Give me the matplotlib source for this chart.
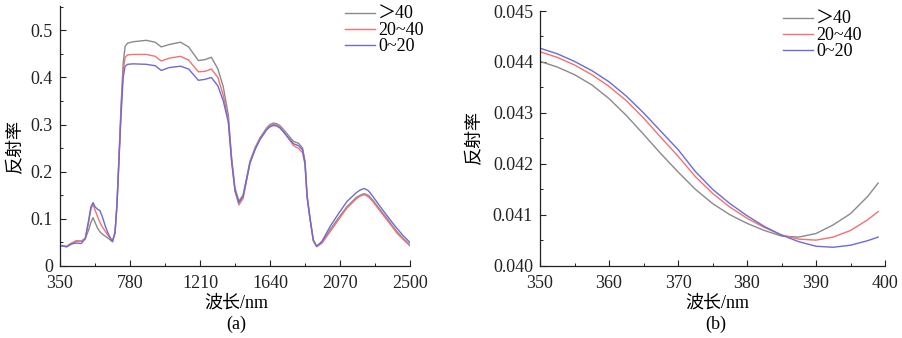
import matplotlib
matplotlib.use("Agg")
import matplotlib.pyplot as plt
from matplotlib.ticker import MultipleLocator, FixedLocator, FormatStrFormatter

plt.rcParams['font.family'] = ['Liberation Serif', 'Noto Sans CJK SC', 'DejaVu Sans']
plt.rcParams['axes.unicode_minus'] = False

# ---------------- data ----------------
labels = ["＞40", "20~40", "0~20"]
colors = ["#8a8a8a", "#f07272", "#6b6bd6"]

wl_a = [350, 390, 420, 450, 480, 505, 525, 540, 553, 565, 580, 595, 610, 630, 650, 672,
        688, 700, 712, 725, 738, 750, 765, 800, 880, 935, 972, 1020, 1090, 1140, 1200,
        1240, 1280, 1320, 1353, 1384, 1404, 1425, 1449, 1475, 1517, 1550, 1579, 1620,
        1640, 1660, 1680, 1700, 1724, 1760, 1785, 1816, 1840, 1855, 1868, 1886, 1906,
        1927, 1960, 2009, 2060, 2112, 2170, 2195, 2220, 2245, 2270, 2318, 2370, 2420,
        2460, 2500]

gray_a = [0.043, 0.040, 0.046, 0.052, 0.052, 0.057, 0.075, 0.092, 0.102, 0.092, 0.080, 0.072,
          0.067, 0.062, 0.057, 0.051, 0.070, 0.130, 0.230, 0.340, 0.430, 0.466, 0.473, 0.476,
          0.479, 0.475, 0.465, 0.470, 0.475, 0.465, 0.436, 0.438, 0.443, 0.418, 0.380, 0.320,
          0.230, 0.165, 0.137, 0.150, 0.222, 0.252, 0.272, 0.293,
          0.300, 0.303, 0.302, 0.298, 0.289, 0.274, 0.264, 0.260, 0.250, 0.222, 0.150, 0.100,
          0.054, 0.041, 0.050, 0.076, 0.101, 0.125, 0.145, 0.150, 0.153, 0.149, 0.140, 0.118,
          0.095, 0.072, 0.057, 0.044]

red_a = [0.043, 0.041, 0.048, 0.053, 0.052, 0.058, 0.090, 0.120, 0.131, 0.118, 0.105, 0.092,
         0.082, 0.072, 0.062, 0.051, 0.070, 0.130, 0.225, 0.330, 0.415, 0.443, 0.448, 0.449,
         0.449, 0.445, 0.435, 0.441, 0.445, 0.437, 0.412, 0.413, 0.418, 0.400, 0.362, 0.310,
         0.225, 0.158, 0.129, 0.143, 0.218, 0.250, 0.270, 0.291,
         0.297, 0.300, 0.299, 0.294, 0.284, 0.267, 0.255, 0.249, 0.240, 0.215, 0.145, 0.098,
         0.053, 0.040, 0.048, 0.072, 0.097, 0.122, 0.142, 0.148, 0.151, 0.146, 0.137, 0.115,
         0.092, 0.069, 0.055, 0.042]

blue_a = [0.043, 0.040, 0.046, 0.048, 0.047, 0.057, 0.095, 0.125, 0.134, 0.125, 0.120, 0.117,
          0.104, 0.082, 0.065, 0.051, 0.070, 0.130, 0.220, 0.320, 0.400, 0.424, 0.428, 0.429,
          0.428, 0.425, 0.415, 0.421, 0.424, 0.418, 0.394, 0.396, 0.400, 0.382, 0.350, 0.305,
          0.222, 0.160, 0.134, 0.148, 0.218, 0.248, 0.268, 0.289,
          0.295, 0.298, 0.297, 0.293, 0.284, 0.269, 0.259, 0.255, 0.246, 0.218, 0.145, 0.100,
          0.054, 0.041, 0.052, 0.083, 0.110, 0.136, 0.155, 0.161, 0.164, 0.159, 0.148, 0.125,
          0.101, 0.079, 0.063, 0.049]

wl_b = [350, 352.5, 355, 357.5, 360, 362.5, 365, 367.5, 370, 372.5, 375, 377.5, 380,
        382.5, 385, 387.5, 390, 392.5, 395, 397.5, 399]
gray_b = [0.04401, 0.04390, 0.04375, 0.04355, 0.04328, 0.04295, 0.04258, 0.04220, 0.04184,
          0.04150, 0.04122, 0.04100, 0.04083, 0.04069, 0.04058, 0.04056, 0.04063, 0.04080,
          0.04102, 0.04136, 0.04162]
red_b = [0.04420, 0.04409, 0.04394, 0.04375, 0.04352, 0.04324, 0.04290, 0.04252, 0.04215,
         0.04175, 0.04142, 0.04115, 0.04093, 0.04075, 0.04060, 0.04052, 0.04050, 0.04056,
         0.04069, 0.04090, 0.04106]
blue_b = [0.04427, 0.04416, 0.04401, 0.04383, 0.04361, 0.04333, 0.04300, 0.04264, 0.04228,
          0.04185, 0.04150, 0.04122, 0.04098, 0.04077, 0.04060, 0.04047, 0.04038, 0.04036,
          0.04040, 0.04049, 0.04056]

xticks_a = [350, 780, 1210, 1640, 2070, 2500]
xminor_a = [565, 995, 1425, 1855, 2285]
yticks_a = [0, 0.1, 0.2, 0.3, 0.4, 0.5]
yticklabels_a = ["0", "0.1", "0.2", "0.3", "0.4", "0.5"]
xticks_b = [350, 360, 370, 380, 390, 400]

# ---------------- figure ----------------
W, H = 902, 338
fig = plt.figure(figsize=(W / 100, H / 100), dpi=100)
fig.patch.set_facecolor("white")

def px_axes(l, t, r, b):
    return fig.add_axes([l / W, 1 - b / H, (r - l) / W, (b - t) / H])

ax1 = px_axes(60, 6, 410, 265.6)
ax2 = px_axes(540, 11, 885, 265.6)

FS = 13

def style(ax):
    for s in ["top", "right"]:
        ax.spines[s].set_visible(False)
    for s in ["left", "bottom"]:
        ax.spines[s].set_color("#222222")
        ax.spines[s].set_linewidth(0.9)
    ax.tick_params(which="major", direction="in", length=4.5, width=0.8, labelsize=FS,
                   colors="#222222", pad=5)
    ax.tick_params(which="minor", direction="in", length=2.5, width=0.7, colors="#222222")
    ax.tick_params(axis="x", which="major", pad=7)

# panel (a)
for y, c, lab in zip([gray_a, red_a, blue_a], colors, labels):
    ax1.plot(wl_a, y, color=c, lw=1.0, label=lab)
ax1.set_xlim(350, 2500)
ax1.set_ylim(0, 0.552)
ax1.xaxis.set_major_locator(FixedLocator(xticks_a))
ax1.set_xticklabels([str(v) for v in xticks_a])
ax1.xaxis.set_minor_locator(FixedLocator(xminor_a))
ax1.set_yticks(yticks_a)
ax1.set_yticklabels(yticklabels_a)
ax1.yaxis.set_minor_locator(MultipleLocator(0.05))
style(ax1)
for t in ax1.get_yticklabels():
    t.set_va("center_baseline")

# panel (b)
for y, c, lab in zip([gray_b, red_b, blue_b], colors, labels):
    ax2.plot(wl_b, y, color=c, lw=1.0, label=lab)
ax2.set_xlim(350, 400)
ax2.set_ylim(0.040, 0.045)
ax2.set_xticks(xticks_b)
ax2.xaxis.set_minor_locator(MultipleLocator(5))
ax2.yaxis.set_major_locator(MultipleLocator(0.001))
ax2.yaxis.set_minor_locator(MultipleLocator(0.0005))
ax2.yaxis.set_major_formatter(FormatStrFormatter("%.3f"))
style(ax2)

# axis labels
for ax in (ax1, ax2):
    ax.set_xlabel("波长/nm", fontsize=FS, va="center")
    ax.set_ylabel("反射率", fontsize=FS, va="center")

ax1.xaxis.set_label_coords((236 - 60) / 350, (265.6 - 303) / 259.6)
ax1.yaxis.set_label_coords((16 - 60) / 350, (265.6 - 146) / 259.6)
ax2.xaxis.set_label_coords((717 - 540) / 345, (265.6 - 303) / 254.6)
ax2.yaxis.set_label_coords((475 - 540) / 345, (265.6 - 137) / 254.6)

def fig_text(x, y, s):
    fig.text(x / W, 1 - y / H, s, fontsize=FS, ha="center", va="center")

fig_text(236, 324, "(a)")
fig_text(716, 324, "(b)")

# legends
leg_kw = dict(frameon=False, fontsize=FS, handlelength=1.65, handletextpad=0.2,
              labelspacing=-0.05, borderpad=0, borderaxespad=0, loc="upper left")
ax1.legend(bbox_to_anchor=((345 - 60) / 350, (265.6 - 6) / 259.6), **leg_kw)
ax2.legend(bbox_to_anchor=((783 - 540) / 345, (265.6 - 11) / 254.6), **leg_kw)

fig.savefig("out.png", dpi=100, facecolor="white")
